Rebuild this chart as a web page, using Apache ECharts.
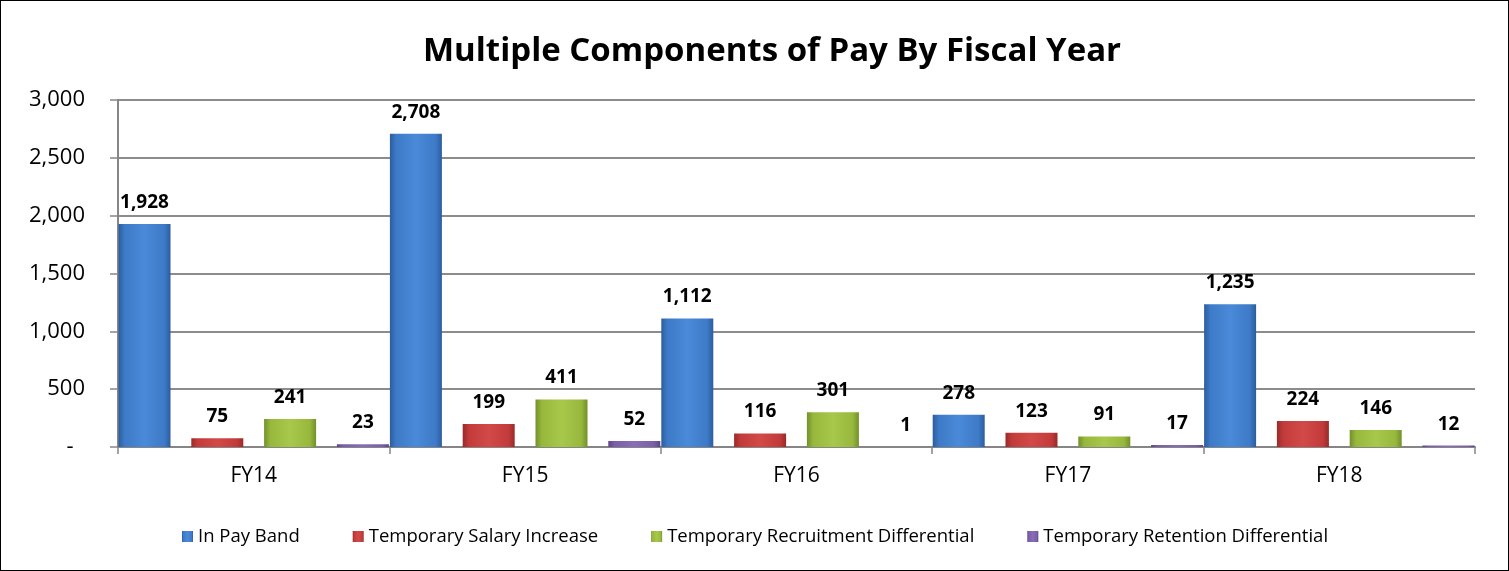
<!DOCTYPE html>
<html>
<head>
<meta charset="utf-8">
<script src="https://cdn.jsdelivr.net/npm/echarts@6/dist/echarts.min.js"></script>
<style>
  html, body { margin: 0; padding: 0; background: #fff; }
  #chart { width: 1507px; height: 569px; border: 1px solid #000; }
</style>
</head>
<body>
<div id="chart"></div>
<script>
// data
var years = ['FY14', 'FY15', 'FY16', 'FY17', 'FY18'];
var inPayBand = [1928, 2708, 1112, 278, 1235];
var salaryIncrease = [75, 199, 116, 123, 224];
var recruitmentDiff = [241, 411, 301, 91, 146];
var retentionDiff = [23, 52, 1, 17, 12];
var seriesNames = ['In Pay Band', 'Temporary Salary Increase', 'Temporary Recruitment Differential', 'Temporary Retention Differential'];

var FONT = '"Open Sans", Lato, sans-serif';

// bevel look: horizontal gradient, darker at the edges
function bevel(light, mid, dark) {
  return new echarts.graphic.LinearGradient(0, 0, 1, 0, [
    { offset: 0, color: dark },
    { offset: 0.12, color: mid },
    { offset: 0.5, color: light },
    { offset: 0.88, color: mid },
    { offset: 1, color: dark }
  ]);
}

var colors = [
  bevel('#4a8ad8', '#3d7ac7', '#2c5d9e'),
  bevel('#d24a48', '#c23b3a', '#982a29'),
  bevel('#a8c84c', '#97b83c', '#72902a'),
  bevel('#8a6cb8', '#7a5ea8', '#5c4585')
];
var legendColors = ['#3d7ac7', '#c23b3a', '#97b83c', '#7a5ea8'];

function fmt(v) {
  return v.toLocaleString('en-US');
}

function makeSeries(i, values) {
  return {
    name: seriesNames[i],
    type: 'bar',
    data: values,
    barWidth: 52,
    barGap: '40%',
    itemStyle: { color: colors[i] },
    label: {
      show: true,
      position: 'top',
      distance: 12,
      fontFamily: FONT,
      fontWeight: 'bold',
      fontSize: 19,
      color: '#000',
      formatter: function (p) { return fmt(p.value); }
    }
  };
}

var chart = echarts.init(document.getElementById('chart'));
chart.setOption({
  animation: false,
  color: legendColors,
  title: {
    text: 'Multiple Components of Pay By Fiscal Year',
    left: 417,
    top: 29,
    textStyle: { fontFamily: FONT, fontWeight: 'bold', fontSize: 33, color: '#000' }
  },
  legend: {
    left: 176,
    top: 521,
    itemWidth: 11,
    itemHeight: 11,
    itemGap: 53,
    icon: 'rect',
    textStyle: { fontFamily: FONT, fontSize: 18.5, color: '#000' },
    data: seriesNames
  },
  grid: { left: 117, right: 33, top: 99, bottom: 123 },
  xAxis: {
    type: 'category',
    data: years,
    axisLine: { lineStyle: { color: '#868686', width: 2 } },
    axisTick: { show: true, length: 7, lineStyle: { color: '#868686', width: 1.5 } },
    axisLabel: { fontFamily: FONT, fontSize: 21, color: '#000', margin: 19 }
  },
  yAxis: {
    type: 'value',
    min: 0,
    max: 3000,
    interval: 500,
    axisLine: { show: true, lineStyle: { color: '#868686', width: 2 } },
    axisTick: { show: true, inside: false, length: 8, lineStyle: { color: '#868686', width: 1.5 } },
    splitLine: { lineStyle: { color: '#8c8c8c', width: 2 } },
    axisLabel: {
      fontFamily: FONT,
      fontSize: 22,
      color: '#000',
      margin: 33,
      formatter: function (v) { return v === 0 ? '-  ' : fmt(v); }
    }
  },
  series: [
    makeSeries(0, inPayBand),
    makeSeries(1, salaryIncrease),
    makeSeries(2, recruitmentDiff),
    makeSeries(3, retentionDiff)
  ]
});
</script>
</body>
</html>
